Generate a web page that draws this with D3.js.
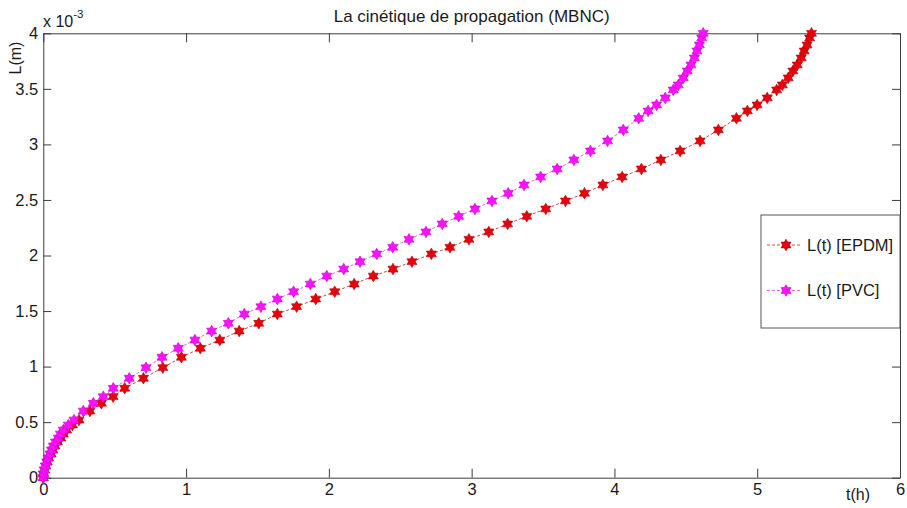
<!DOCTYPE html>
<meta charset="utf-8">
<script src="https://d3js.org/d3.v7.min.js"></script>
<style>
  body { margin: 0; background: #fff; }
  svg { font-family: Arial, "Liberation Sans", sans-serif; }
  .axis path, .axis line { stroke: #3c3c3c; }
  .axis text { fill: #1a1a1a; font-size: 16.5px; }
</style>
<div id="my_dataviz"></div>
<script>

// crack length L, in units of 10^-3 m (shared by both curves)
var lengthL = [0, 0.033, 0.069, 0.105, 0.141, 0.177, 0.213, 0.249, 0.285, 0.321,
  0.357, 0.393, 0.429, 0.474, 0.519, 0.600, 0.670, 0.729, 0.805, 0.895,
  0.990, 1.084, 1.165, 1.239, 1.320, 1.390, 1.473, 1.539, 1.608, 1.674,
  1.743, 1.815, 1.878, 1.944, 2.014, 2.074, 2.146, 2.212, 2.284, 2.353,
  2.419, 2.491, 2.560, 2.635, 2.707, 2.779, 2.860, 2.941, 3.031, 3.130,
  3.235, 3.301, 3.355, 3.418, 3.490, 3.535, 3.598, 3.661, 3.715, 3.778,
  3.841, 3.895, 3.958, 4.0]

// time in hours, EPDM
var tEPDM = [0, 0.001, 0.009, 0.017, 0.028, 0.038, 0.055, 0.066, 0.081, 0.099,
  0.122, 0.140, 0.163, 0.204, 0.250, 0.326, 0.407, 0.489, 0.570, 0.701,
  0.837, 0.967, 1.100, 1.236, 1.372, 1.509, 1.639, 1.774, 1.908, 2.041,
  2.177, 2.311, 2.449, 2.582, 2.718, 2.848, 2.981, 3.120, 3.252, 3.386,
  3.519, 3.657, 3.790, 3.919, 4.054, 4.189, 4.325, 4.460, 4.600, 4.728,
  4.854, 4.931, 4.999, 5.070, 5.136, 5.176, 5.217, 5.250, 5.280, 5.308,
  5.329, 5.349, 5.367, 5.380]

// time in hours, PVC
var tPVC = [0, 0.001, 0.008, 0.015, 0.024, 0.033, 0.047, 0.057, 0.070, 0.085,
  0.105, 0.120, 0.140, 0.175, 0.215, 0.280, 0.350, 0.420, 0.490, 0.602,
  0.719, 0.831, 0.945, 1.062, 1.179, 1.296, 1.408, 1.524, 1.639, 1.753,
  1.870, 1.985, 2.104, 2.218, 2.335, 2.447, 2.561, 2.680, 2.794, 2.909,
  3.023, 3.142, 3.256, 3.367, 3.483, 3.599, 3.716, 3.832, 3.952, 4.062,
  4.170, 4.236, 4.295, 4.356, 4.412, 4.447, 4.482, 4.510, 4.536, 4.560,
  4.578, 4.595, 4.611, 4.622]

var xTicks = [0, 1, 2, 3, 4, 5, 6]
var yTicks = [0, 0.5, 1, 1.5, 2, 2.5, 3, 3.5, 4]

var seriesNames = ["L(t) [EPDM]", "L(t) [PVC]"]

var W = 907, H = 508
var box = {left: 43.3, right: 900, top: 33.3, bottom: 477.7}

var svg = d3.select("#my_dataviz")
  .append("svg")
    .attr("width", W)
    .attr("height", H)

var x = d3.scaleLinear().domain([0, 6]).range([box.left, box.right])
var y = d3.scaleLinear().domain([0, 4]).range([box.bottom, box.top])

// white plot area
svg.append("rect")
  .attr("x", box.left).attr("y", box.top)
  .attr("width", box.right - box.left).attr("height", box.bottom - box.top)
  .attr("fill", "#fff")

// axes on all four sides, ticks pointing inward (matlab box)
var fmt = d3.format("~g")
svg.append("g").attr("class", "axis")
  .attr("transform", "translate(0," + box.bottom + ")")
  .call(d3.axisBottom(x).tickValues(xTicks).tickFormat(fmt).tickSizeInner(-9).tickSizeOuter(0).tickPadding(6))
svg.append("g").attr("class", "axis")
  .attr("transform", "translate(0," + box.top + ")")
  .call(d3.axisTop(x).tickValues(xTicks).tickFormat("").tickSizeInner(-9).tickSizeOuter(0))
svg.append("g").attr("class", "axis")
  .attr("transform", "translate(" + box.left + ",0)")
  .call(d3.axisLeft(y).tickValues(yTicks).tickFormat(fmt).tickSizeInner(-8).tickSizeOuter(0).tickPadding(5))
svg.append("g").attr("class", "axis")
  .attr("transform", "translate(" + box.right + ",0)")
  .call(d3.axisRight(y).tickValues(yTicks).tickFormat("").tickSizeInner(-8).tickSizeOuter(0))

// six pointed star marker
function hexagram(R) {
  var r = R / Math.sqrt(3), p = d3.path()
  for (var i = 0; i < 12; i++) {
    var a = -Math.PI / 2 + i * Math.PI / 6, rr = i % 2 ? r : R
    if (i == 0) p.moveTo(rr * Math.cos(a), rr * Math.sin(a))
    else p.lineTo(rr * Math.cos(a), rr * Math.sin(a))
  }
  p.closePath()
  return p.toString()
}
var star = hexagram(5.8)

var series = [
  {name: seriesNames[0], t: tEPDM, line: "#c0504d", fill: "#e8000b", edge: "#b00000"},
  {name: seriesNames[1], t: tPVC, line: "#d070d8", fill: "#ff10ff", edge: "#c800d0"}
]

var line = d3.line()
  .x(function(d) { return x(d[0]) })
  .y(function(d) { return y(d[1]) })

series.forEach(function(s) {
  var pts = s.t.map(function(t, i) { return [t, lengthL[i]] })
  svg.append("path")
    .datum(pts)
    .attr("d", line)
    .attr("fill", "none")
    .attr("stroke", s.line)
    .attr("stroke-width", 1)
    .attr("stroke-dasharray", "3,2")
  svg.selectAll(null)
    .data(pts)
    .enter()
    .append("path")
      .attr("d", star)
      .attr("transform", function(d) { return "translate(" + x(d[0]) + "," + y(d[1]) + ")" })
      .attr("fill", s.fill)
      .attr("stroke", s.edge)
      .attr("stroke-width", 0.6)
})

// title and labels
svg.append("text")
  .attr("x", (box.left + box.right) / 2).attr("y", 22)
  .attr("text-anchor", "middle")
  .attr("font-size", "17px").attr("fill", "#1a1a1a")
  .text("La cinétique de propagation (MBNC)")

var expo = svg.append("text")
  .attr("x", 43).attr("y", 27)
  .attr("font-size", "16px").attr("fill", "#1a1a1a")
expo.append("tspan").text("x 10")
expo.append("tspan").attr("dy", -9).attr("font-size", "11.5px").text("-3")

svg.append("text")
  .attr("transform", "translate(21,58) rotate(-90)")
  .attr("text-anchor", "middle")
  .attr("font-size", "16px").attr("fill", "#1a1a1a")
  .text("L(m)")

svg.append("text")
  .attr("x", 858).attr("y", 500)
  .attr("text-anchor", "middle")
  .attr("font-size", "16px").attr("fill", "#1a1a1a")
  .text("t(h)")

// legend
var leg = svg.append("g")
leg.append("rect")
  .attr("x", 761).attr("y", 215).attr("width", 139).attr("height", 113)
  .attr("fill", "#fff").attr("stroke", "#555").attr("stroke-width", 1)
series.forEach(function(s, i) {
  var ly = 245 + i * 45.5
  leg.append("line")
    .attr("x1", 767).attr("x2", 802).attr("y1", ly).attr("y2", ly)
    .attr("stroke", s.line).attr("stroke-dasharray", "3,2")
  leg.append("path")
    .attr("d", star)
    .attr("transform", "translate(786," + ly + ")")
    .attr("fill", s.fill).attr("stroke", s.edge).attr("stroke-width", 0.6)
  leg.append("text")
    .attr("x", 807).attr("y", ly).attr("dy", "0.36em")
    .attr("font-size", "16.5px").attr("fill", "#1a1a1a")
    .text(s.name)
})

</script>
